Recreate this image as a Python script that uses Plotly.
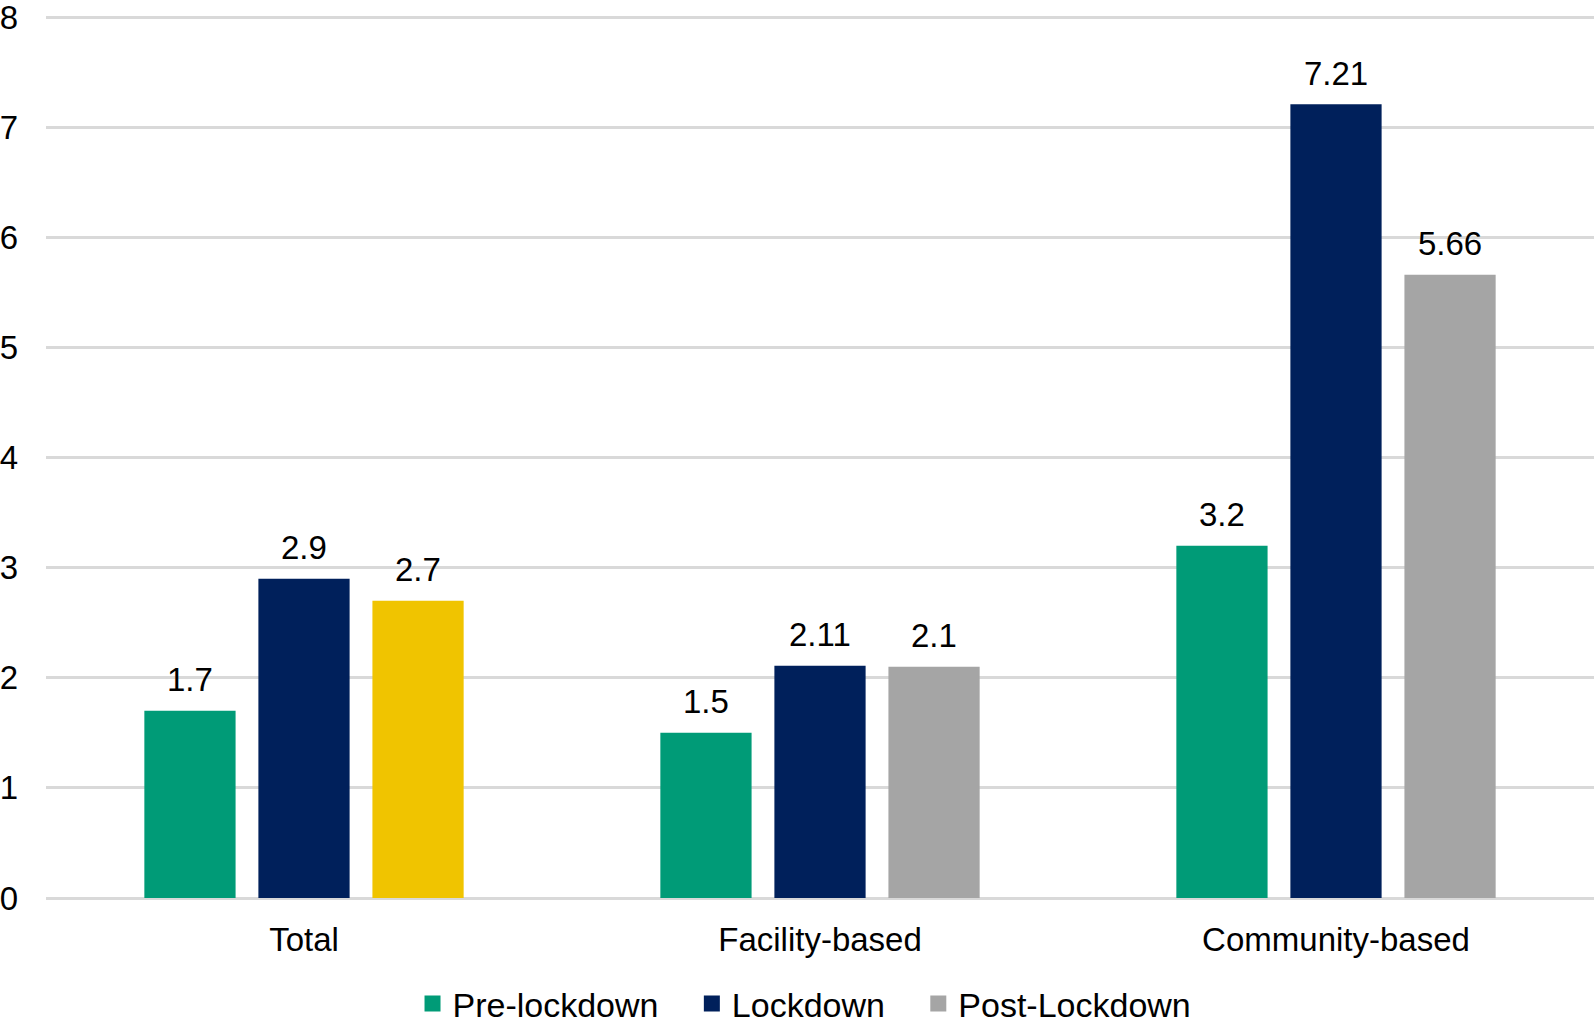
import plotly.graph_objects as go

categories = ["Total", "Facility-based", "Community-based"]
pre_lockdown = [1.7, 1.5, 3.2]
lockdown = [2.9, 2.11, 7.21]
post_lockdown = [2.7, 2.1, 5.66]

GREEN = "#009B77"
NAVY = "#00205B"
GREY = "#A5A5A5"
YELLOW = "#F0C400"

FONT = "Liberation Sans, Arial, sans-serif"
W, H = 1594, 1027
M_L, M_R, M_T, M_B = 46, 0, 15, 129
BARGAP, GROUPGAP = 0.337, 0.2

series = [
    ("Pre-lockdown", pre_lockdown, GREEN, "a"),
    ("Lockdown", lockdown, NAVY, "b"),
    ("Post-Lockdown", post_lockdown, [YELLOW, GREY, GREY], "c"),
]
legend_colors = [GREEN, NAVY, GREY]

fig = go.Figure()
for name, vals, color, grp in series:
    fig.add_bar(x=categories, y=vals, name=name, marker_color=color,
                marker_line_width=0, offsetgroup=grp, showlegend=False)

# legend entries: larger square swatches, post-lockdown in its regular grey
names_pad = {"Pre-lockdown": "Pre-lockdown\u00a0\u00a0\u00a0",
             "Lockdown": "Lockdown\u00a0\u00a0\u00a0"}
for (name, _, _, _), col in zip(series, legend_colors):
    fig.add_scatter(x=[None], y=[None], mode="markers", name=names_pad.get(name, name),
                    marker=dict(symbol="square", size=18, color=col),
                    hoverinfo="skip")

# value labels above bars
slot = (W - M_L - M_R) / len(categories) * (1 - BARGAP) / 3
for i, (name, vals, color, grp) in enumerate(series):
    for cat, v in zip(categories, vals):
        fig.add_annotation(x=cat, y=v, text=str(v), showarrow=False,
                           xshift=(i - 1) * slot, yshift=31, yanchor="middle",
                           font=dict(size=33, color="#000000"))

fig.update_layout(
    width=W, height=H,
    margin=dict(l=M_L, r=M_R, t=M_T, b=M_B, autoexpand=False),
    paper_bgcolor="white", plot_bgcolor="white",
    font=dict(family=FONT, size=33, color="#000000"),
    barmode="group", bargap=BARGAP, bargroupgap=GROUPGAP,
    showlegend=True,
    legend=dict(orientation="h", x=0.49, xanchor="center", y=-0.12, yanchor="middle",
                font=dict(size=34), itemwidth=30, traceorder="normal"),
    xaxis=dict(showgrid=False, showline=False, ticks="", tickfont=dict(size=33),
               ticklabelstandoff=19),
    yaxis=dict(range=[0, 8.02], tickvals=list(range(0, 9)), showgrid=True,
               gridcolor="#D9D9D9", gridwidth=2.5,
               zeroline=True, zerolinecolor="#D9D9D9", zerolinewidth=2.5,
               showline=False, tickfont=dict(size=33), ticklabelstandoff=27,
               ticklabeloverflow="allow"),
)

fig.write_html("out.html", config={"displayModeBar": False},
               post_script="document.body.style.margin = '0';")
